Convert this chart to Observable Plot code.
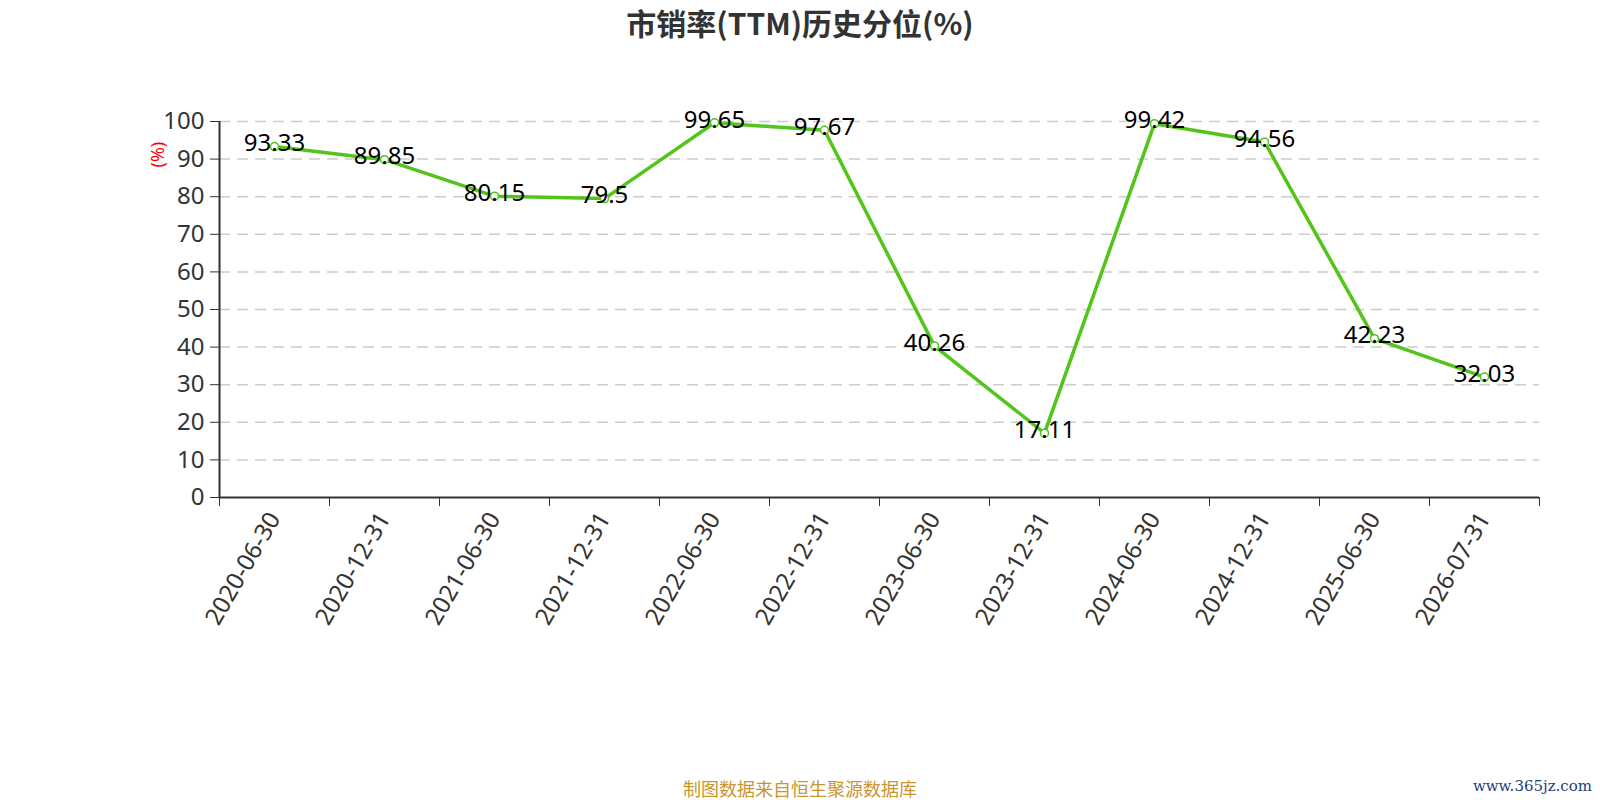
<!DOCTYPE html>
<html>
<head>
<meta charset="utf-8">
<script src="https://cdn.jsdelivr.net/npm/d3@7"></script>
<script src="https://cdn.jsdelivr.net/npm/@observablehq/plot@0.6"></script>
<style>
  html, body { margin: 0; padding: 0; background: #fff; width: 1600px; height: 800px; overflow: hidden; }
  #title { height: 44px; line-height: 44px; text-align: center; font-family: "Noto Sans CJK SC", "Noto Sans", sans-serif; font-weight: bold; font-size: 30px; color: #333; }
  #chart svg { display: block; }
  #foot { position: relative; height: 26px; }
  #caption { position: absolute; left: 0; right: 0; top: 1px; text-align: center; font-family: "Noto Sans CJK SC", sans-serif; font-size: 18px; color: #c9952f; }
  #wm { position: absolute; right: 8px; top: 3px; font-family: "DejaVu Serif", serif; font-size: 15px; color: #1f3c7a; }
</style>
</head>
<body>
<div id="title">市销率(TTM)历史分位(%)</div>
<div id="chart"></div>
<div id="foot"><div id="caption">制图数据来自恒生聚源数据库</div><div id="wm">www.365jz.com</div></div>
<script>
const dates = ["2020-06-30","2020-12-31","2021-06-30","2021-12-31","2022-06-30","2022-12-31","2023-06-30","2023-12-31","2024-06-30","2024-12-31","2025-06-30","2026-07-31"];
const values = [93.33, 89.85, 80.15, 79.5, 99.65, 97.67, 40.26, 17.11, 99.42, 94.56, 42.23, 32.03];
const yTicks = [0, 10, 20, 30, 40, 50, 60, 70, 80, 90, 100];
const yLabel = "(%)";

const data = dates.map((d, i) => ({i, date: d, value: values[i]}));
const xDomain = [-0.5, dates.length - 0.5];
const boundaries = d3.range(dates.length + 1).map(k => k - 0.5);
const centers = d3.range(dates.length);
const green = "#52c41a";

const chart = Plot.plot({
  width: 1600,
  height: 730,
  marginTop: 77,
  marginBottom: 277,
  marginLeft: 219,
  marginRight: 61,
  style: {fontFamily: "'Noto Sans', 'Noto Sans CJK SC', sans-serif", color: "#333", background: "#fff"},
  x: {type: "linear", domain: xDomain},
  y: {domain: [0, 100]},
  marks: [
    Plot.gridY(yTicks.filter(t => t > 0), {stroke: "#ccc", strokeOpacity: 1, strokeWidth: 1.5, strokeDasharray: "11,7"}),
    Plot.axisY({ticks: yTicks, tickSize: 9, tickPadding: 6, fontSize: 24, color: "#333", label: null}),
    Plot.axisX({ticks: boundaries, tickSize: 9, tickFormat: () => "", color: "#333", label: null}),
    Plot.axisX({ticks: centers, tickSize: 0, tickPadding: 17, tickRotate: -60, fontSize: 24, tickFormat: i => dates[i], color: "#333", label: null}),
    Plot.ruleX([xDomain[0]], {stroke: "#333", strokeWidth: 2}),
    Plot.ruleY([0], {stroke: "#333", strokeWidth: 2}),
    Plot.text([yLabel], {frameAnchor: "top-left", dx: -68, dy: 46, rotate: -90, fill: "red", fontSize: 18}),
    Plot.line(data, {x: "i", y: "value", stroke: green, strokeWidth: 3.5}),
    Plot.dot(data, {x: "i", y: "value", r: 4, fill: "white", stroke: green, strokeWidth: 1.5}),
    Plot.text(data, {x: "i", y: "value", text: d => String(d.value), fontSize: 24, fill: "black", dy: -3})
  ]
});
document.getElementById("chart").appendChild(chart);
</script>
</body>
</html>
